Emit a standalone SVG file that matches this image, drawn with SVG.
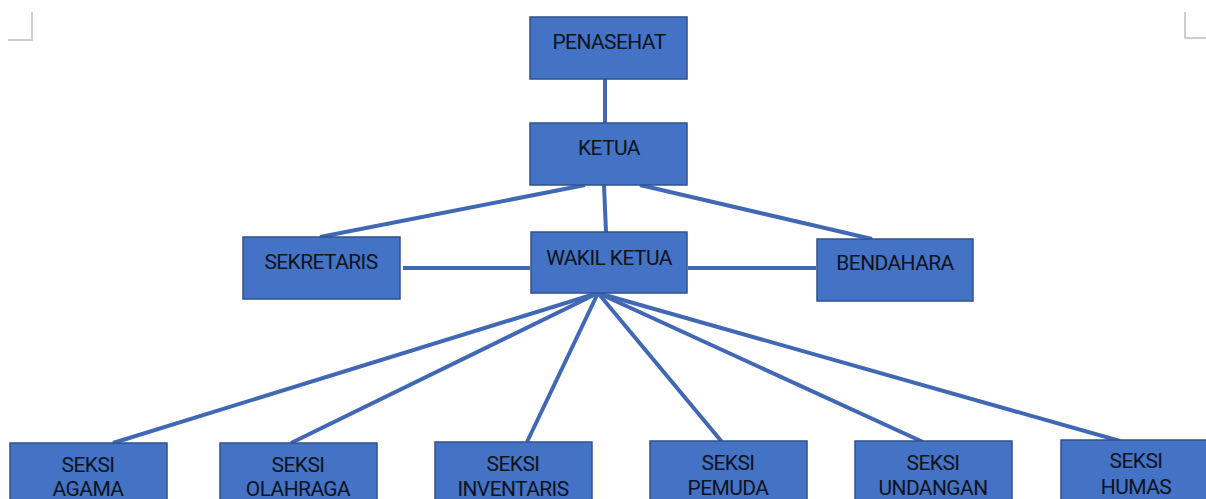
<svg xmlns="http://www.w3.org/2000/svg" width="1206" height="499" viewBox="0 0 1206 499">
<style>
.box{fill:#4472C4;stroke:#2F528F;stroke-width:1.5}
.t{font-family:Roboto,"Liberation Sans",sans-serif;font-size:21px;letter-spacing:-0.6px;fill:#0F1420;text-anchor:middle}
.ln{stroke:#4068B4;stroke-width:4;fill:none;stroke-linecap:butt}
.mark{stroke:#BFBFBF;stroke-width:1.5;fill:none}
</style>
<rect width="1206" height="499" fill="#ffffff"/>
<path class="mark" d="M32 12 V40 H8"/>
<path class="mark" d="M1185 12 V38 H1206"/>
<g id="connectors">
<line class="ln" x1="605" y1="79" x2="605" y2="123"/>
<line class="ln" x1="585" y1="185" x2="320" y2="237"/>
<line class="ln" x1="640" y1="185" x2="872" y2="239"/>
<line class="ln" x1="604" y1="185" x2="606" y2="232"/>
<line class="ln" x1="403" y1="268" x2="530" y2="268"/>
<line class="ln" x1="688" y1="268" x2="816" y2="268"/>
<line class="ln" x1="598" y1="293" x2="113" y2="443"/>
<line class="ln" x1="598" y1="293" x2="291" y2="443"/>
<line class="ln" x1="598" y1="293" x2="527" y2="442"/>
<line class="ln" x1="598" y1="293" x2="722" y2="442"/>
<line class="ln" x1="598" y1="293" x2="923" y2="442"/>
<line class="ln" x1="598" y1="293" x2="1120" y2="441"/>
</g>
<g id="penasehat"><rect class="box" x="530" y="17" width="157" height="62"/><text class="t" x="609" y="49">PENASEHAT</text></g>
<g id="ketua"><rect class="box" x="530" y="123" width="157" height="62"/><text class="t" x="609" y="155">KETUA</text></g>
<g id="wakil"><rect class="box" x="531" y="232" width="156" height="61"/><text class="t" x="609" y="265">WAKIL KETUA</text></g>
<g id="sekretaris"><rect class="box" x="243" y="237" width="157" height="62"/><text class="t" x="321" y="269">SEKRETARIS</text></g>
<g id="bendahara"><rect class="box" x="817" y="239" width="156" height="62"/><text class="t" x="895" y="270">BENDAHARA</text></g>
<g id="agama"><rect class="box" x="10" y="443" width="157" height="62"/><text class="t" x="88" y="472">SEKSI</text><text class="t" x="88" y="496">AGAMA</text></g>
<g id="olahraga"><rect class="box" x="220" y="443" width="157" height="62"/><text class="t" x="298" y="472">SEKSI</text><text class="t" x="298" y="496">OLAHRAGA</text></g>
<g id="inventaris"><rect class="box" x="435" y="442" width="157" height="62"/><text class="t" x="513" y="471">SEKSI</text><text class="t" x="513" y="496">INVENTARIS</text></g>
<g id="pemuda"><rect class="box" x="650" y="441" width="157" height="62"/><text class="t" x="728" y="470">SEKSI</text><text class="t" x="728" y="495">PEMUDA</text></g>
<g id="undangan"><rect class="box" x="855" y="441" width="157" height="62"/><text class="t" x="933" y="470">SEKSI</text><text class="t" x="933" y="495">UNDANGAN</text></g>
<g id="humas"><rect class="box" x="1061" y="440" width="157" height="62"/><text class="t" x="1136" y="468">SEKSI</text><text class="t" x="1136" y="494">HUMAS</text></g>
</svg>
